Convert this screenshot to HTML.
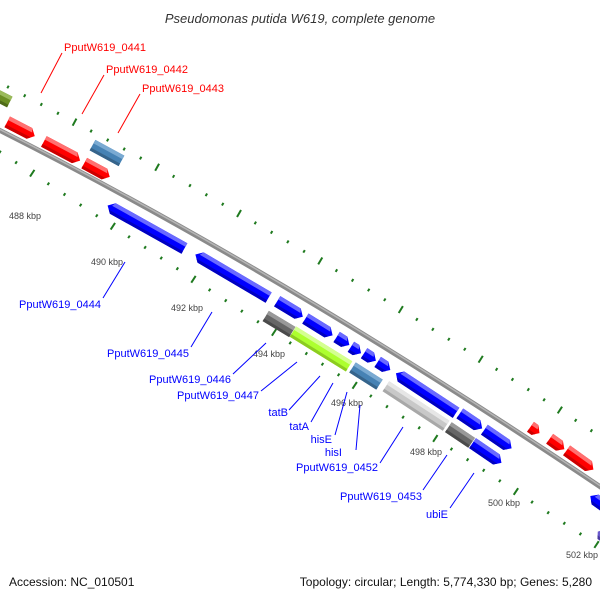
<!DOCTYPE html>
<html><head><meta charset="utf-8"><style>
html,body{margin:0;padding:0;background:#fff;}
svg{display:block;font-family:"Liberation Sans",sans-serif;}
</style></head><body>
<svg id="s" width="600" height="600" viewBox="0 0 600 600" xmlns="http://www.w3.org/2000/svg">
<text x="300" y="23" text-anchor="middle" font-size="13" font-style="italic" fill="#333">Pseudomonas putida W619, complete genome</text>
<path d="M-5,128 Q280,271 605,490" fill="none" stroke="#8a8a8a" stroke-width="5"/>
<path d="M-5,127 Q280,270 605,489" fill="none" stroke="#b5b5b5" stroke-width="1.5"/>
<g id="ticks"></g>
<g id="feat"></g>
<g font-size="9" fill="#444" text-anchor="middle">
<text x="25" y="219">488 kbp</text><text x="107" y="265">490 kbp</text><text x="187" y="311">492 kbp</text><text x="269" y="357">494 kbp</text><text x="347" y="406">496 kbp</text><text x="426" y="455">498 kbp</text><text x="504" y="506">500 kbp</text><text x="582" y="558">502 kbp</text>
</g>
<g font-size="11" fill="#f00">
<text x="64" y="51">PputW619_0441</text><text x="106" y="73">PputW619_0442</text><text x="142" y="92">PputW619_0443</text>
</g>
<g stroke="#f00" stroke-width="1">
<line x1="62" y1="53" x2="41" y2="93"/><line x1="104" y1="75" x2="82" y2="114"/><line x1="140" y1="94" x2="118" y2="133"/>
</g>
<g font-size="11" fill="#00f" text-anchor="end">
<text x="101" y="308">PputW619_0444</text><text x="189" y="357">PputW619_0445</text><text x="231" y="383">PputW619_0446</text><text x="259" y="399">PputW619_0447</text><text x="288" y="416">tatB</text><text x="309" y="430">tatA</text><text x="332" y="443">hisE</text><text x="342" y="456">hisI</text><text x="378" y="471">PputW619_0452</text><text x="422" y="500">PputW619_0453</text><text x="448" y="518">ubiE</text>
</g>
<g stroke="#00f" stroke-width="1">
<line x1="103" y1="298" x2="125" y2="262"/><line x1="191" y1="347" x2="212" y2="312"/><line x1="233" y1="374" x2="266" y2="343"/><line x1="261" y1="391" x2="297" y2="362"/><line x1="289" y1="410" x2="320" y2="376"/><line x1="311" y1="422" x2="333" y2="383"/><line x1="335" y1="435" x2="347" y2="392"/><line x1="356" y1="450" x2="360" y2="405"/><line x1="380" y1="463" x2="403" y2="427"/><line x1="423" y1="490" x2="447" y2="455"/><line x1="450" y1="508" x2="474" y2="473"/>
</g>
<text x="9" y="586" font-size="12" fill="#111">Accession: NC_010501</text>
<text x="592" y="586" font-size="12" fill="#111" text-anchor="end">Topology: circular; Length: 5,774,330 bp; Genes: 5,280</text>
</svg>
<script>
var NS="http://www.w3.org/2000/svg";
function el(t,a,p){var e=document.createElementNS(NS,t);for(var k in a)e.setAttribute(k,a[k]);p.appendChild(e);return e;}
var T=document.getElementById("ticks");
function ticks(f,df,x0,n,step,longi){
  var x=x0;
  for(var i=0;i<n;i++){
    var y=f(x),s=df(x),len=Math.sqrt(1+s*s);
    var nx=-s/len,ny=1/len; // perpendicular
    var L=(i%5==longi)?4:1.5;
    el("line",{x1:x-nx*L,y1:y-ny*L,x2:x+nx*L,y2:y+ny*L,stroke:"#1f7a1f","stroke-width":2},T);
    x+=step/len;
    if(x>605)break;
  }
}
var a=82.84,b=0.5185,c=0.0001177;
ticks(function(x){return a+b*x+c*x*x},function(x){return b+2*c*x},8,60,18.8,4);
ticks(function(x){return 152+0.658*x},function(x){return 0.658},0,60,19.3,2);
var F=document.getElementById("feat");
var C={r:["#f00","#ff7070","#c00"],b:["#00f","#6a6aff","#0000c0"],s:["#4682b4","#7aaad2","#36648b"],g:["#adff2f","#d4ff90","#8ccc20"],d:["#666","#999","#4a4a4a"],l:["#c8c8c8","#e6e6e6","#a8a8a8"],o:["#6b8e23","#9aba5a","#4f6b18"],p:["#6a5acd","#9a8ae0","#4a3aa0"]};
var list=[
[0,97,22,"x","o"],[21,129,31,"r","r"],[62,151,41,"r","r"],[97,170,29,"r","r"],[107,153,33,"x","s"],
[146,227,88,"l","b"],[232,276,85,"l","b"],
[290,309,30,"r","b"],[319,327,32,"r","b"],[343,341,15,"r","b"],[356,350,12,"r","b"],[370,357,14,"r","b"],[384,366,15,"r","b"],
[426,393,72,"l","b"],[471,421,27,"r","b"],[498,439,33,"r","b"],
[279,324,31,"x","d"],[321,349,66,"x","g"],[366,376,32,"x","s"],[416,406,72,"x","l"],[460,435,28,"x","d"],[487,453,35,"r","b"],
[535,430,11,"r","r"],[557,444,18,"r","r"],[580,460,33,"r","r"],[600,503,24,"l","b"],[601,534,8,"l","p"]
];
list.forEach(function(f){
  var cx=f[0],cy=f[1],L=f[2],t=f[3],col=C[f[4]];
  var ang=27+0.015*cx;
  var g=el("g",{transform:"translate("+cx+","+cy+") rotate("+ang+")"},F);
  var h=L/2,p=6,hd=Math.min(6,L/2);
  var pts;
  if(t=="r")pts=[[-h,-p],[h-hd,-p],[h,0],[h-hd,p],[-h,p]];
  else if(t=="l")pts=[[-h+hd,-p],[h,-p],[h,p],[-h+hd,p],[-h,0]];
  else pts=[[-h,-p],[h,-p],[h,p],[-h,p]];
  el("polygon",{points:pts.map(function(q){return q.join(",")}).join(" "),fill:col[0]},g);
  // highlight top band
  var hp;
  if(t=="r")hp=[[-h,-p],[h-hd,-p],[h-hd*0.67,-2],[-h,-2]];
  else if(t=="l")hp=[[-h+hd,-p],[h,-p],[h,-2],[-h+hd*0.67,-2]];
  else hp=[[-h,-p],[h,-p],[h,-2],[-h,-2]];
  el("polygon",{points:hp.map(function(q){return q.join(",")}).join(" "),fill:col[1]},g);
  var sp;
  if(t=="r")sp=[[-h,3],[h-hd*0.5,3],[h-hd,p],[-h,p]];
  else if(t=="l")sp=[[-h+hd*0.5,3],[h,3],[h,p],[-h+hd,p]];
  else sp=[[-h,3],[h,3],[h,p],[-h,p]];
  el("polygon",{points:sp.map(function(q){return q.join(",")}).join(" "),fill:col[2]},g);
});
</script>
</body></html>
